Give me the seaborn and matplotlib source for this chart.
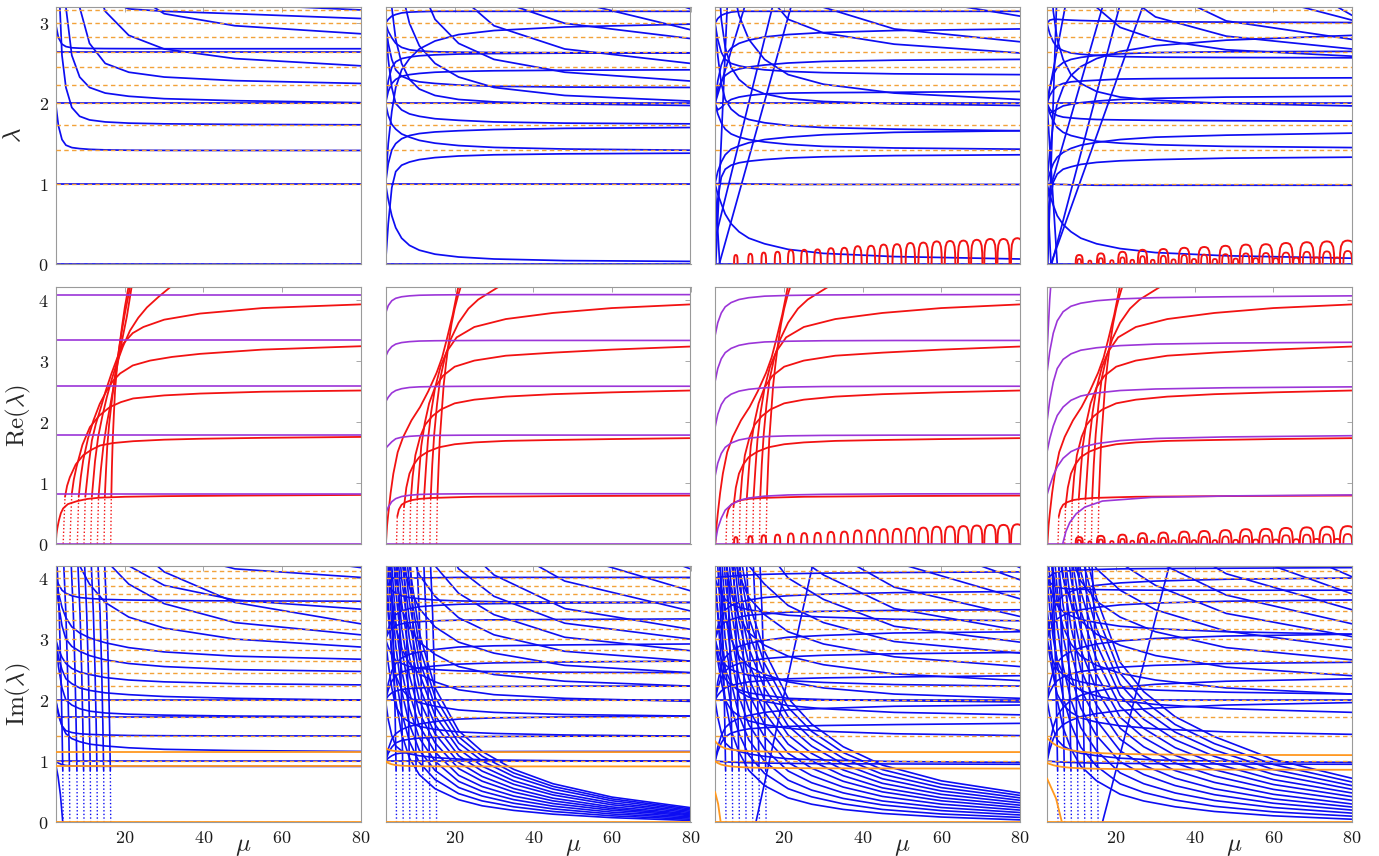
import pandas as pd
import matplotlib
matplotlib.use("Agg")
import matplotlib.pyplot as plt
import seaborn as sns

MU = [2.4, 3.1, 4, 5, 6.5, 8.5, 11, 15, 21, 30, 48, 80]
# finer mu positions for the decaying families near the axis in row 3
MU_F = [2.4, 3.1, 4, 5, 6.5, 8.5, 11, 15, 21, 27, 35, 45, 60, 80]

# sqrt(n) reference levels (dashed orange)
SQRT_N = [0, 1, 1.414, 1.732, 2.0, 2.236, 2.449, 2.646, 2.828, 3.0, 3.162,
          3.317, 3.464, 3.606, 3.742, 3.873, 4.0, 4.123]

# ---------------- row 1 : lambda ----------------
lam_c1 = [
    [0] * 12, [1] * 12, [2] * 12, [2.646] * 12,
    [2.0, 1.72, 1.55, 1.48, 1.45, 1.437, 1.428, 1.421, 1.417, 1.415, 1.414, 1.414],
    [4.5, 3.6, 2.6, 2.2, 1.95, 1.84, 1.795, 1.77, 1.755, 1.746, 1.739, 1.734],
    [6.0, 5.2, 4.2, 3.2, 2.6, 2.33, 2.2, 2.13, 2.09, 2.06, 2.035, 2.01],
    [9, 7.6, 6.2, 5.0, 4.0, 3.2, 2.75, 2.5, 2.39, 2.33, 2.285, 2.25],
    [12, 10.6, 9, 7.5, 6.0, 4.6, 3.7, 3.15, 2.85, 2.68, 2.56, 2.47],
    [15, 13, 11, 9, 7.2, 5.5, 4.2, 3.3, 3.18, 3.15, 3.12, 3.06],
    [20, 17.5, 14.5, 12, 9.5, 7.5, 5.8, 4.3, 3.4, 3.12, 2.97, 2.87],
    [25, 22, 19, 16, 13, 10.5, 8, 5.8, 4.4, 3.6, 3.24, 3.167],
    [2.99, 2.82, 2.74, 2.71, 2.695, 2.69, 2.687, 2.685, 2.684, 2.683, 2.683, 2.683],
]
lam_c2 = [
    [0] * 12, [1] * 12, [2] * 12,
    [1.0, 0.8, 0.6, 0.45, 0.32, 0.23, 0.17, 0.12, 0.085, 0.06, 0.04, 0.03],
    [0.0, 0.5, 0.95, 1.15, 1.23, 1.27, 1.3, 1.325, 1.345, 1.36, 1.372, 1.38],
    [1.0, 1.25, 1.42, 1.5, 1.56, 1.6, 1.625, 1.645, 1.66, 1.675, 1.69, 1.70],
    [2.0, 1.85, 1.74, 1.68, 1.62, 1.58, 1.54, 1.505, 1.475, 1.452, 1.432, 1.417],
    [3.0, 2.55, 2.2, 2.0, 1.92, 1.87, 1.84, 1.81, 1.79, 1.77, 1.755, 1.746],
    [2.0, 2.15, 2.25, 2.3, 2.34, 2.36, 2.375, 2.39, 2.4, 2.408, 2.415, 2.42],
    [3.0, 2.75, 2.55, 2.42, 2.34, 2.3, 2.27, 2.25, 2.23, 2.215, 2.205, 2.2],
    [2.0, 2.28, 2.45, 2.52, 2.56, 2.58, 2.595, 2.607, 2.617, 2.623, 2.628, 2.63],
    [1.0, 1.5, 1.9, 2.2, 2.42, 2.56, 2.68, 2.78, 2.86, 2.91, 2.955, 2.99],
    [5.0, 4.0, 3.2, 2.8, 2.5, 2.3, 2.18, 2.1, 2.05, 2.02, 1.995, 1.975],
    [7.0, 6.0, 4.9, 4.0, 3.4, 3.0, 2.72, 2.5, 2.33, 2.2, 2.1, 2.03],
    [9.0, 8.0, 6.9, 6.0, 5.0, 4.1, 3.5, 3.05, 2.75, 2.55, 2.39, 2.28],
    [12, 10.8, 9.2, 8.0, 6.8, 5.7, 4.8, 3.95, 3.35, 2.97, 2.68, 2.5],
    [15, 14, 12, 10, 8.5, 7.2, 6, 4.8, 3.85, 3.3, 3.0, 2.81],
    [20, 18, 16, 14, 11.8, 9.8, 8, 6.4, 4.9, 3.9, 3.3, 2.92],
    [3.0, 3.05, 3.09, 3.11, 3.13, 3.14, 3.145, 3.15, 3.15, 3.15, 3.15, 3.15],
    [25, 22, 19, 16, 13.5, 11.5, 9.8, 8, 6.2, 4.8, 3.7, 3.18],
    [3.0, 2.9, 2.82, 2.75, 2.7, 2.67, 2.655, 2.645, 2.64, 2.636, 2.633, 2.632],
]
lam_c3 = [
    [0] * 12, [1, 1, 1, 1, 1, 1, 0.995, 0.995, 0.99, 0.99, 0.99, 0.99], [2] * 12,
    [1.0, 0.87, 0.75, 0.62, 0.5, 0.4, 0.32, 0.25, 0.18, 0.13, 0.09, 0.06],
    [2.0, 1.92, 1.95, 2.0, 2.05, 2.08, 2.1, 2.12, 2.13, 2.135, 2.14, 2.15],
    [0.3, 0.8, 1.08, 1.18, 1.23, 1.26, 1.28, 1.3, 1.32, 1.335, 1.35, 1.36],
    [1.0, 1.15, 1.27, 1.36, 1.43, 1.47, 1.51, 1.55, 1.58, 1.61, 1.64, 1.66],
    [2.0, 1.87, 1.76, 1.68, 1.62, 1.58, 1.55, 1.52, 1.49, 1.465, 1.445, 1.43],
    [3.0, 2.6, 2.25, 2.05, 1.93, 1.85, 1.8, 1.76, 1.725, 1.7, 1.68, 1.66],
    [4.5, 3.75, 3.05, 2.7, 2.45, 2.3, 2.2, 2.12, 2.06, 2.025, 1.995, 1.975],
    [2.0, 2.17, 2.28, 2.35, 2.4, 2.43, 2.455, 2.48, 2.505, 2.525, 2.54, 2.55],
    [3.0, 2.8, 2.64, 2.55, 2.5, 2.47, 2.445, 2.42, 2.4, 2.385, 2.37, 2.36],
    [7.0, 6.0, 5.0, 4.2, 3.55, 3.1, 2.8, 2.55, 2.36, 2.24, 2.13, 2.05],
    [10, 8.8, 7.4, 6.5, 5.4, 4.5, 3.9, 3.4, 3.05, 2.88, 2.74, 2.63],
    [13, 12, 10.5, 9, 7.6, 6.4, 5.3, 4.4, 3.6, 3.2, 2.93, 2.77],
    [2.0, 2.28, 2.48, 2.6, 2.69, 2.75, 2.79, 2.83, 2.86, 2.885, 2.91, 2.93],
    [18, 16.5, 14, 12, 10, 8.5, 7, 5.6, 4.4, 3.75, 3.35, 3.09],
    [3.0, 3.06, 3.1, 3.12, 3.14, 3.15, 3.15, 3.15, 3.15, 3.15, 3.15, 3.15],
]
lam_lines_c3 = [
    ([3.5, 21.7], [0, 3.2]), ([2.4, 17.0], [0.3, 3.2]), ([2.4, 9.9], [2.0, 3.2]),
    ([2.4, 3.6], [1.0, 0]), ([2.6, 5.5], [0, 3.2]),
]
lam_c4 = [
    [0] * 12, [1.0, 1.0, 0.995, 0.99, 0.99, 0.985, 0.985, 0.98, 0.98, 0.98, 0.98, 0.98], [2] * 12,
    [1.0, 0.86, 0.73, 0.6, 0.49, 0.4, 0.32, 0.25, 0.19, 0.14, 0.1, 0.07],
    [0.3, 0.78, 1.02, 1.12, 1.18, 1.21, 1.24, 1.265, 1.285, 1.3, 1.318, 1.33],
    [1.0, 1.13, 1.25, 1.33, 1.39, 1.44, 1.48, 1.515, 1.55, 1.58, 1.605, 1.63],
    [2.0, 1.88, 1.78, 1.7, 1.64, 1.6, 1.57, 1.53, 1.505, 1.485, 1.465, 1.45],
    [2.0, 1.93, 1.88, 1.85, 1.83, 1.82, 1.81, 1.8, 1.795, 1.79, 1.785, 1.78],
    [2.0, 1.88, 1.9, 1.93, 1.97, 1.99, 2.01, 2.03, 2.05, 2.065, 2.08, 2.09],
    [4.5, 3.8, 3.15, 2.8, 2.55, 2.36, 2.25, 2.15, 2.08, 2.04, 2.0, 1.97],
    [2.0, 2.1, 2.17, 2.22, 2.25, 2.27, 2.28, 2.29, 2.305, 2.31, 2.315, 2.32],
    [3.0, 2.87, 2.77, 2.7, 2.66, 2.63, 2.615, 2.6, 2.585, 2.578, 2.574, 2.57],
    [9, 7.8, 6.5, 5.5, 4.6, 4.0, 3.55, 3.2, 2.95, 2.8, 2.67, 2.59],
    [2.0, 2.2, 2.36, 2.45, 2.51, 2.55, 2.575, 2.6, 2.62, 2.635, 2.645, 2.65],
    [12, 10.8, 9.2, 8, 6.6, 5.5, 4.6, 3.95, 3.4, 3.08, 2.84, 2.68],
    [15, 13.2, 11.3, 10, 8.5, 7, 5.9, 4.9, 4.0, 3.45, 3.03, 2.8],
    [1.0, 1.4, 1.75, 2.0, 2.2, 2.35, 2.46, 2.56, 2.65, 2.72, 2.79, 2.85],
    [3.0, 3.04, 3.05, 3.05, 3.045, 3.04, 3.035, 3.03, 3.025, 3.02, 3.015, 3.01],
    [20, 17.5, 15, 13, 11, 9, 7.6, 6.3, 5.0, 4.1, 3.45, 3.04],
    [30, 27, 23, 20, 17, 15, 12.5, 10, 7.5, 5.5, 4.0, 3.1],
]
lam_lines_c4 = [
    ([3.4, 26.7], [0, 3.2]), ([3.6, 20.8], [0, 3.2]), ([2.4, 16.5], [0.8, 3.2]),
    ([2.4, 7.0], [2.0, 3.2]), ([2.4, 3.4], [1.0, 0]), ([2.6, 4.8], [0, 3.2]), ([2.4, 5.0], [2.0, 0]),
]

# red arches sitting on the axis (columns 3 and 4, rows 1 and 2)
ARCH_U = [-1, -0.96, -0.85, -0.6, -0.3, 0, 0.3, 0.6, 0.85, 0.96, 1]
ARCH_V = [0, 0.45, 0.75, 0.93, 0.985, 1, 0.985, 0.93, 0.75, 0.45, 0]
arch3_mu = [7.7, 11.4, 14.8, 18.3, 21.7, 25.1, 28.5, 31.9, 35.3, 38.7, 42.1,
            45.3, 48.7, 52.1, 55.4, 58.8, 62.2, 65.6, 69.0, 72.4, 75.8, 79.3]
arch3_h = [0.11, 0.125, 0.14, 0.15, 0.17, 0.175, 0.18, 0.195, 0.2, 0.22, 0.225,
           0.24, 0.245, 0.26, 0.265, 0.28, 0.285, 0.29, 0.3, 0.31, 0.31, 0.32]
arch3_w = [0.45, 0.55, 0.6, 0.7, 0.75, 0.8, 0.85, 0.9, 0.95, 1.0, 1.05,
           1.1, 1.15, 1.2, 1.25, 1.3, 1.35, 1.4, 1.45, 1.5, 1.55, 1.6]
arch4_mu = [10.6, 16.1, 21.6, 26.7, 32.0, 37.3, 42.4, 47.8, 53.0, 58.1, 63.2, 68.5, 73.6, 78.9]
arch4_h = [0.11, 0.13, 0.15, 0.175, 0.185, 0.2, 0.21, 0.225, 0.24, 0.245, 0.26, 0.27, 0.28, 0.29]
arch4_w = [0.9, 1.0, 1.1, 1.2, 1.3, 1.4, 1.5, 1.55, 1.6, 1.7, 1.75, 1.8, 1.9, 2.0]
arch4i_h = [0.06, 0.07, 0.08, 0.095, 0.1, 0.11, 0.115, 0.12, 0.13, 0.135, 0.14, 0.15, 0.155, 0.16]
arch4i_w = [0.5, 0.55, 0.6, 0.65, 0.7, 0.75, 0.8, 0.85, 0.9, 0.95, 1.0, 1.0, 1.05, 1.1]
arch4s_mu = [13.3, 18.9, 24.1, 29.3, 34.6, 39.8, 45.1, 50.4, 55.5, 60.6, 65.8, 71.0, 76.2]
arch4s_h = [0.04, 0.045, 0.05, 0.05, 0.055, 0.06, 0.06, 0.065, 0.07, 0.07, 0.075, 0.08, 0.08]
arch4s_w = [0.4, 0.45, 0.5, 0.5, 0.55, 0.6, 0.6, 0.65, 0.7, 0.7, 0.75, 0.8, 0.8]

# ---------------- row 2 : Re(lambda) ----------------
re_purple_c1 = [[0.82] * 12, [1.78] * 12, [2.58] * 12, [3.33] * 12, [4.08] * 12, [0] * 12]
re_purple_c2 = [
    [0.49, 0.6, 0.69, 0.74, 0.775, 0.795, 0.808, 0.815, 0.818, 0.82, 0.82, 0.82],
    [1.56, 1.61, 1.67, 1.72, 1.745, 1.76, 1.77, 1.775, 1.778, 1.78, 1.78, 1.78],
    [2.32, 2.4, 2.47, 2.51, 2.54, 2.56, 2.57, 2.575, 2.578, 2.58, 2.58, 2.58],
    [3.06, 3.16, 3.23, 3.27, 3.295, 3.31, 3.32, 3.325, 3.328, 3.33, 3.33, 3.33],
    [3.77, 3.9, 3.98, 4.02, 4.045, 4.06, 4.07, 4.075, 4.078, 4.08, 4.08, 4.08],
    [0] * 12,
]
re_purple_c3 = [
    [0.0, 0.25, 0.42, 0.55, 0.64, 0.71, 0.75, 0.78, 0.8, 0.81, 0.817, 0.82],
    [1.1, 1.32, 1.48, 1.58, 1.65, 1.7, 1.73, 1.755, 1.768, 1.775, 1.779, 1.78],
    [1.9, 2.12, 2.28, 2.38, 2.45, 2.5, 2.53, 2.555, 2.567, 2.575, 2.579, 2.58],
    [2.65, 2.87, 3.03, 3.13, 3.2, 3.25, 3.28, 3.305, 3.317, 3.325, 3.329, 3.33],
    [3.4, 3.62, 3.78, 3.88, 3.95, 4.0, 4.03, 4.055, 4.067, 4.075, 4.079, 4.08],
    [0] * 12,
]
re_purple_c4 = [
    [0.8, 0.95, 1.12, 1.26, 1.4, 1.51, 1.58, 1.64, 1.69, 1.725, 1.75, 1.77],
    [1.5, 1.72, 1.93, 2.1, 2.24, 2.35, 2.42, 2.47, 2.51, 2.535, 2.555, 2.57],
    [2.0, 2.35, 2.65, 2.87, 3.02, 3.11, 3.17, 3.21, 3.245, 3.27, 3.287, 3.3],
    [2.8, 3.15, 3.45, 3.65, 3.8, 3.89, 3.94, 3.98, 4.01, 4.03, 4.045, 4.06],
    [3.14, 4.0, 4.8, 5.3, 5.7, 6, 6.1, 6.2, 6.3, 6.3, 6.3, 6.3],
    [0] * 12,
]
re_purple_c4_late = [([6.4, 7.2, 8.2, 9.8, 12, 16.5, 29, 50, 80],
                      [0, 0.2, 0.35, 0.49, 0.6, 0.7, 0.76, 0.785, 0.8])]
# red curve leaving the origin
re_red_c1_origin = [([2.4, 2.6, 2.8, 3.2, 3.7, 4.3, 5.5, 7.9, 10.5, 13.5, 20, 30, 50, 80],
                     [0, 0.16, 0.25, 0.38, 0.5, 0.58, 0.65, 0.7, 0.735, 0.755, 0.77, 0.78, 0.79, 0.80])]
re_red_c2_origin = [([2.5, 2.8, 3.1, 3.7, 4.4, 5.5, 6.9, 9, 11.2, 13.3, 15.4, 16.8, 18.0, 19.5, 20.9],
                     [0, 0.3, 0.49, 0.83, 1.15, 1.5, 1.75, 2.02, 2.24, 2.5, 2.8, 3.05, 3.35, 3.75, 4.2])]
# red branches born on the axis (first step is the sparse dotted foot)
re_branch_c1 = [
    ([4.3, 4.77, 5.3, 6.0, 7.5, 9.4, 11.5, 13.7, 17, 22.1, 30, 39.1, 55, 80],
     [0, 0.77, 0.95, 1.09, 1.3, 1.45, 1.54, 1.61, 1.65, 1.68, 1.705, 1.72, 1.735, 1.75]),
    ([6.0, 6.5, 7.0, 7.7, 9.2, 11.1, 13.5, 16.2, 19, 22.1, 30, 39.1, 55, 80],
     [0, 0.82, 1.05, 1.26, 1.62, 1.91, 2.1, 2.24, 2.32, 2.38, 2.43, 2.46, 2.49, 2.51]),
    ([7.9, 8.25, 8.8, 9.4, 10.6, 12.0, 13.6, 15.4, 17, 18.8, 22, 26.4, 32, 39.1, 55, 80],
     [0, 0.77, 1.1, 1.37, 1.72, 2.02, 2.29, 2.51, 2.67, 2.79, 2.92, 3.0, 3.06, 3.11, 3.18, 3.235]),
    ([9.6, 9.93, 10.8, 11.6, 12.6, 13.7, 15.1, 16.6, 18.1, 19.6, 22, 24.7, 30, 39.1, 55, 80],
     [0, 0.77, 1.3, 1.69, 1.96, 2.19, 2.5, 2.79, 3.05, 3.28, 3.45, 3.55, 3.67, 3.77, 3.86, 3.92]),
    ([11.3, 11.6, 12.4, 13.2, 14.3, 15.4, 16.6, 17.9, 19.5, 21.3, 23.4, 25.6, 28.5, 31.5],
     [0, 0.77, 1.35, 1.75, 2.1, 2.40, 2.68, 2.95, 3.23, 3.49, 3.7, 3.87, 4.04, 4.2]),
    ([13.0, 13.3, 13.9, 14.5, 15.3, 16.2, 17.2, 18.3, 19.4, 20.5, 21.7],
     [0, 0.77, 1.22, 1.58, 1.93, 2.24, 2.6, 3.0, 3.37, 3.72, 4.2]),
    ([14.7, 14.9, 15.2, 15.5, 16.0, 16.6, 17.4, 18.3, 19.2, 20.0, 21.3],
     [0, 0.77, 1.2, 1.58, 1.96, 2.3, 2.72, 3.1, 3.47, 3.77, 4.2]),
    ([16.4, 16.55, 16.7, 16.9, 17.2, 17.5, 18.0, 18.6, 19.3, 20.0, 20.9],
     [0, 0.77, 1.25, 1.69, 2.12, 2.51, 2.9, 3.23, 3.57, 3.88, 4.2]),
]
re_branch_c2 = [
    ([5.2, 5.4, 5.8, 6.5, 7.5, 9.0, 11, 14, 19, 25, 35, 50, 80],
     [0, 0.45, 0.56, 0.64, 0.68, 0.715, 0.735, 0.75, 0.76, 0.77, 0.775, 0.782, 0.79]),
    ([6.9, 7.1, 7.7, 8.5, 9.6, 11, 13.2, 16, 20, 25, 33, 45, 60, 80],
     [0, 0.6, 0.92, 1.15, 1.3, 1.42, 1.51, 1.58, 1.63, 1.66, 1.685, 1.70, 1.715, 1.73]),
    ([8.6, 8.8, 9.3, 10, 11.2, 12.5, 14.3, 16.5, 20, 25, 33, 45, 60, 80],
     [0, 0.7, 1.1, 1.45, 1.75, 1.95, 2.09, 2.2, 2.3, 2.36, 2.41, 2.45, 2.48, 2.51]),
    ([10.3, 10.5, 11.0, 11.5, 12.4, 13.5, 15, 17, 20, 25, 33, 45, 60, 80],
     [0, 0.75, 1.2, 1.6, 1.98, 2.3, 2.56, 2.75, 2.9, 3.0, 3.08, 3.13, 3.18, 3.23]),
    ([12.0, 12.2, 12.7, 13.2, 14.0, 15, 16.4, 18, 20.5, 25, 33, 45, 60, 80],
     [0, 0.75, 1.25, 1.7, 2.15, 2.55, 2.9, 3.15, 3.38, 3.55, 3.68, 3.78, 3.86, 3.92]),
    ([13.7, 13.9, 14.3, 14.8, 15.5, 16.3, 17.5, 19, 21, 23.5, 26, 28, 31],
     [0, 0.75, 1.3, 1.8, 2.28, 2.7, 3.05, 3.35, 3.62, 3.85, 4.0, 4.08, 4.2]),
    ([15.4, 15.6, 15.9, 16.2, 16.7, 17.2, 17.8, 18.5, 19.2, 20, 20.8, 21.5],
     [0, 0.75, 1.25, 1.7, 2.15, 2.6, 2.95, 3.3, 3.6, 3.85, 4.05, 4.2]),
]

# ---------------- row 3 : Im(lambda) ----------------
VERT_V = [4.3, 3.4, 2.5, 1.6, 0.85, 0]
im_vert_c1 = [
    [2.7, 3.3, 3.7, 4.0, 4.2, 4.3], [4.4, 5.0, 5.4, 5.7, 5.9, 6.0], [6.3, 6.9, 7.3, 7.6, 7.8, 7.9],
    [8.0, 8.6, 9.0, 9.3, 9.5, 9.6], [9.7, 10.3, 10.7, 11.0, 11.2, 11.3], [11.4, 12.0, 12.4, 12.7, 12.9, 13.0],
    [13.1, 13.7, 14.1, 14.4, 14.6, 14.7], [14.8, 15.4, 15.8, 16.1, 16.3, 16.4],
]
im_vert_c2 = [
    [3.6, 4.2, 4.6, 4.9, 5.1, 5.2], [5.3, 5.9, 6.3, 6.6, 6.8, 6.9], [7.0, 7.6, 8.0, 8.3, 8.5, 8.6],
    [8.7, 9.3, 9.7, 10.0, 10.2, 10.3], [10.4, 11.0, 11.4, 11.7, 11.9, 12.0], [12.1, 12.7, 13.1, 13.4, 13.6, 13.7],
    [13.8, 14.4, 14.8, 15.1, 15.3, 15.4],
]
im_orange_c1 = [[1.15] * 12, [0.915] * 12, [0] * 12]
im_orange_c2 = [
    [1.22, 1.19, 1.175, 1.165, 1.158, 1.154, 1.152, 1.151, 1.15, 1.15, 1.15, 1.15],
    [1.0, 0.97, 0.95, 0.937, 0.927, 0.921, 0.918, 0.916, 0.915, 0.915, 0.915, 0.915],
    [0] * 12,
]
im_orange_c3 = [
    [1.33, 1.28, 1.24, 1.21, 1.19, 1.175, 1.165, 1.158, 1.154, 1.152, 1.15, 1.15],
    [1.0, 0.97, 0.945, 0.93, 0.915, 0.905, 0.897, 0.891, 0.887, 0.884, 0.882, 0.88],
    [0] * 12,
]
im_orange_c4 = [
    [1.38, 1.34, 1.29, 1.25, 1.21, 1.18, 1.155, 1.135, 1.12, 1.11, 1.104, 1.1],
    [0.97, 0.955, 0.935, 0.92, 0.905, 0.893, 0.884, 0.877, 0.871, 0.867, 0.863, 0.86],
    [0] * 12,
]
im_orange_drop_c3 = [([2.4, 3.2, 3.85], [0.5, 0.3, 0])]
im_orange_drop_c4 = [([2.4, 4.7, 6.2], [0.72, 0.39, 0])]
im_first_drop_c1 = [([2.4, 3.0, 3.6, 4.2], [0.95, 0.75, 0.45, 0])]
im_line_c3 = [([12.8, 27.2], [0, 4.2])]
im_line_c4 = [([16.5, 33.5], [0, 4.2])]

im_blue_c1 = [
    [1.0] * 12, [2.0] * 12, [1.732] * 12,
    [2.0, 1.75, 1.58, 1.5, 1.47, 1.45, 1.44, 1.43, 1.422, 1.418, 1.415, 1.414],
    [2.0, 1.8, 1.58, 1.45, 1.37, 1.32, 1.28, 1.25, 1.22, 1.195, 1.175, 1.16],
    [1.0, 0.97, 0.945, 0.93, 0.924, 0.92, 0.918, 0.917, 0.916, 0.916, 0.915, 0.915],
    [3.0, 2.7, 2.5, 2.35, 2.27, 2.2, 2.16, 2.12, 2.09, 2.06, 2.03, 2.0],
    [3.0, 2.55, 2.2, 2.0, 1.92, 1.86, 1.82, 1.79, 1.77, 1.755, 1.74, 1.73],
    [3.0, 2.84, 2.7, 2.6, 2.52, 2.46, 2.42, 2.37, 2.33, 2.3, 2.27, 2.25],
    [4.0, 3.58, 3.22, 3.0, 2.88, 2.8, 2.73, 2.66, 2.6, 2.55, 2.5, 2.47],
    [4.0, 3.76, 3.52, 3.35, 3.2, 3.1, 3.02, 2.94, 2.86, 2.79, 2.72, 2.67],
    [4.0, 3.9, 3.8, 3.75, 3.71, 3.68, 3.665, 3.65, 3.64, 3.632, 3.625, 3.62],
    [7, 6.5, 5.7, 5.0, 4.5, 4.2, 3.9, 3.6, 3.36, 3.18, 3.0, 2.87],
    [9, 8.5, 7.6, 7.0, 6.2, 5.5, 4.8, 4.3, 3.9, 3.58, 3.27, 3.07],
    [12, 11, 9.8, 9, 8, 7, 6.2, 5.4, 4.6, 4.1, 3.6, 3.25],
    [15, 14, 12.5, 11, 9.5, 8, 6.5, 4.9, 4.2, 3.88, 3.64, 3.49],
    [20, 18, 16, 14, 12, 10, 8, 6.2, 5.0, 4.45, 4.15, 4.01],
    [25, 22.5, 19, 16, 14, 12, 10, 8, 6.3, 5.2, 4.45, 4.17],
]
im_blue_c2 = [
    [1.0] * 12, [2.0] * 12,
    [3.0, 2.6, 2.2, 1.9, 1.73, 1.64, 1.57, 1.52, 1.48, 1.455, 1.43, 1.41],
    [4.0, 3.4, 2.8, 2.4, 2.18, 2.04, 1.96, 1.9, 1.84, 1.8, 1.765, 1.74],
    [5.2, 4.5, 3.7, 3.2, 2.85, 2.6, 2.43, 2.3, 2.17, 2.09, 2.03, 1.98],
    [6.5, 5.6, 4.7, 4.0, 3.5, 3.18, 2.95, 2.75, 2.55, 2.42, 2.31, 2.23],
    [8.0, 7.0, 5.9, 5.0, 4.3, 3.85, 3.5, 3.2, 2.95, 2.77, 2.57, 2.45],
    [9.5, 8.3, 7.1, 6.0, 5.1, 4.5, 4.05, 3.7, 3.35, 3.07, 2.8, 2.64],
    [11, 9.8, 8.2, 7, 6.0, 5.2, 4.6, 4.2, 3.75, 3.4, 3.03, 2.81],
    [13, 11.5, 9.6, 8.2, 7, 6.1, 5.3, 4.8, 4.15, 3.7, 3.26, 3.0],
    [15, 13.2, 11.2, 9.5, 8, 6.9, 6.0, 5.4, 4.6, 4.05, 3.5, 3.16],
    [18, 16, 13.5, 11.5, 9.7, 8.3, 7.2, 6.4, 5.3, 4.6, 3.95, 3.46],
    [21, 18.8, 15.8, 13.5, 11.4, 9.7, 8.4, 7.5, 6.1, 5.2, 4.4, 3.79],
    [25, 22, 18.7, 16, 13.6, 11.6, 10, 9, 7.1, 5.9, 4.9, 4.15],
    [1.0, 1.13, 1.23, 1.3, 1.34, 1.36, 1.38, 1.39, 1.4, 1.405, 1.41, 1.41],
    [2.0, 2.07, 2.12, 2.15, 2.175, 2.19, 2.2, 2.21, 2.22, 2.225, 2.23, 2.23],
    [2.0, 2.17, 2.31, 2.4, 2.46, 2.5, 2.53, 2.56, 2.59, 2.61, 2.625, 2.64],
    [3.0, 3.1, 3.17, 3.22, 3.25, 3.27, 3.285, 3.3, 3.31, 3.315, 3.322, 3.33],
    [3.0, 3.17, 3.31, 3.4, 3.46, 3.5, 3.53, 3.55, 3.57, 3.58, 3.59, 3.6],
    [4.0, 4.0, 4.0, 4.0, 4.0, 4.0, 4.0, 4.005, 4.01, 4.01, 4.01, 4.01],
    [1.0, 1.2, 1.36, 1.45, 1.52, 1.57, 1.61, 1.65, 1.69, 1.71, 1.725, 1.74],
    [2.0, 2.27, 2.48, 2.6, 2.69, 2.75, 2.79, 2.83, 2.87, 2.89, 2.905, 2.92],
    [2.0, 1.68, 1.42, 1.25, 1.17, 1.12, 1.09, 1.06, 1.035, 1.02, 1.008, 1.0],
    [3.0, 2.87, 2.74, 2.65, 2.6, 2.55, 2.52, 2.5, 2.48, 2.467, 2.457, 2.45],
    [4.0, 3.9, 3.8, 3.75, 3.71, 3.68, 3.66, 3.64, 3.625, 3.613, 3.605, 3.6],
    [1.0, 1.05, 1.09, 1.12, 1.135, 1.14, 1.148, 1.152, 1.156, 1.158, 1.16, 1.16],
]
im_family_c2 = [
    [4.5, 3.6, 2.7, 2.0, 1.45, 1.05, 0.78, 0.55, 0.37, 0.27, 0.195, 0.133, 0.076, 0.03],
    [5.2, 4.2, 3.2, 2.4, 1.8, 1.32, 0.98, 0.7, 0.47, 0.35, 0.254, 0.177, 0.106, 0.05],
    [6.0, 4.9, 3.7, 2.9, 2.15, 1.6, 1.18, 0.85, 0.57, 0.43, 0.312, 0.22, 0.136, 0.07],
    [6.8, 5.5, 4.2, 3.3, 2.5, 1.86, 1.38, 1.0, 0.67, 0.507, 0.371, 0.264, 0.166, 0.09],
    [7.6, 6.2, 4.8, 3.8, 2.85, 2.12, 1.58, 1.15, 0.77, 0.585, 0.43, 0.307, 0.197, 0.11],
    [8.5, 6.9, 5.3, 4.3, 3.2, 2.4, 1.79, 1.3, 0.88, 0.673, 0.495, 0.351, 0.224, 0.125],
    [9.4, 7.6, 5.9, 4.8, 3.6, 2.7, 2.0, 1.45, 0.98, 0.75, 0.553, 0.395, 0.252, 0.14],
    [10.3, 8.4, 6.5, 5.3, 4.0, 3.0, 2.22, 1.6, 1.09, 0.838, 0.622, 0.448, 0.287, 0.16],
    [11.2, 9.1, 7.1, 5.8, 4.35, 3.3, 2.44, 1.75, 1.2, 0.919, 0.68, 0.491, 0.318, 0.18],
    [12.1, 9.8, 7.7, 6.3, 4.7, 3.6, 2.66, 1.9, 1.3, 1.004, 0.75, 0.545, 0.353, 0.2],
    [13.0, 10.5, 8.3, 6.8, 5.1, 3.9, 2.88, 2.05, 1.4, 1.082, 0.808, 0.588, 0.383, 0.22],
    [14.0, 11.3, 8.9, 7.3, 5.5, 4.2, 3.1, 2.2, 1.5, 1.16, 0.867, 0.632, 0.413, 0.24],
]
im_blue_c3 = [
    [1.0, 1.0, 0.995, 0.99, 0.985, 0.98, 0.975, 0.97, 0.965, 0.96, 0.955, 0.95], [2.0] * 12,
    [3.0, 2.65, 2.3, 2.0, 1.84, 1.74, 1.66, 1.6, 1.54, 1.49, 1.45, 1.42],
    [4.0, 3.45, 2.9, 2.5, 2.28, 2.14, 2.05, 1.98, 1.91, 1.86, 1.8, 1.76],
    [5.5, 4.7, 3.9, 3.4, 3.0, 2.72, 2.55, 2.42, 2.3, 2.2, 2.1, 2.03],
    [7.0, 6.0, 5.0, 4.3, 3.75, 3.36, 3.1, 2.9, 2.72, 2.58, 2.43, 2.32],
    [8.5, 7.3, 6.1, 5.3, 4.6, 4.05, 3.68, 3.4, 3.12, 2.92, 2.71, 2.55],
    [10, 8.7, 7.3, 6.3, 5.4, 4.7, 4.2, 3.9, 3.55, 3.27, 2.96, 2.77],
    [12, 10.5, 8.8, 7.5, 6.4, 5.5, 4.9, 4.5, 4.0, 3.65, 3.21, 2.95],
    [14, 12.2, 10.2, 8.8, 7.4, 6.4, 5.6, 5.1, 4.45, 4.05, 3.5, 3.14],
    [16, 14.2, 11.8, 10, 8.5, 7.3, 6.4, 5.8, 5.0, 4.5, 3.85, 3.37],
    [19, 17, 14, 12, 10, 8.5, 7.4, 6.7, 5.7, 5.05, 4.26, 3.66],
    [22, 19.8, 16.4, 14, 11.7, 9.9, 8.6, 7.8, 6.5, 5.7, 4.7, 3.97],
    [26, 23.2, 19.3, 16.5, 13.7, 11.6, 10, 9, 7.4, 6.3, 5.1, 4.17],
    [1.0, 1.16, 1.3, 1.4, 1.46, 1.5, 1.53, 1.55, 1.57, 1.585, 1.6, 1.62],
    [2.0, 2.08, 2.15, 2.2, 2.24, 2.27, 2.3, 2.32, 2.35, 2.365, 2.38, 2.4],
    [2.0, 2.2, 2.37, 2.48, 2.55, 2.6, 2.64, 2.68, 2.71, 2.735, 2.76, 2.78],
    [3.0, 3.12, 3.22, 3.28, 3.32, 3.36, 3.39, 3.41, 3.44, 3.455, 3.47, 3.48],
    [3.0, 3.2, 3.37, 3.48, 3.55, 3.6, 3.64, 3.68, 3.71, 3.735, 3.76, 3.78],
    [4.0, 4.01, 4.02, 4.02, 4.03, 4.04, 4.05, 4.06, 4.07, 4.08, 4.09, 4.1],
    [1.0, 1.23, 1.42, 1.55, 1.64, 1.7, 1.75, 1.8, 1.84, 1.865, 1.9, 1.92],
    [2.0, 2.3, 2.55, 2.7, 2.8, 2.88, 2.93, 2.98, 3.03, 3.06, 3.1, 3.12],
    [2.0, 1.72, 1.47, 1.3, 1.21, 1.16, 1.12, 1.08, 1.04, 1.02, 0.995, 0.98],
    [3.0, 2.84, 2.68, 2.58, 2.5, 2.45, 2.41, 2.37, 2.32, 2.29, 2.255, 2.23],
    [4.0, 3.87, 3.74, 3.65, 3.57, 3.52, 3.48, 3.44, 3.39, 3.36, 3.325, 3.3],
    [3.0, 2.75, 2.5, 2.35, 2.24, 2.17, 2.12, 2.08, 2.03, 2.01, 1.99, 1.97],
]
im_family_c3 = [
    [4.0, 3.4, 2.6, 2.0, 1.5, 1.15, 0.85, 0.6, 0.4, 0.296, 0.211, 0.145, 0.086, 0.04],
    [5.0, 4.2, 3.2, 2.5, 1.9, 1.45, 1.1, 0.8, 0.55, 0.417, 0.302, 0.21, 0.136, 0.08],
    [6.0, 5.0, 3.8, 3.0, 2.3, 1.75, 1.35, 1.0, 0.69, 0.527, 0.391, 0.284, 0.191, 0.12],
    [7.0, 5.8, 4.4, 3.5, 2.7, 2.06, 1.6, 1.2, 0.84, 0.648, 0.482, 0.349, 0.242, 0.16],
    [8.0, 6.6, 5.0, 4.0, 3.1, 2.37, 1.85, 1.4, 0.98, 0.765, 0.577, 0.424, 0.297, 0.2],
    [9.0, 7.4, 5.6, 4.5, 3.5, 2.68, 2.1, 1.6, 1.13, 0.886, 0.672, 0.498, 0.352, 0.24],
    [10, 8.2, 6.2, 5.0, 3.9, 3.0, 2.35, 1.8, 1.28, 1.006, 0.763, 0.564, 0.402, 0.28],
    [11, 9.0, 6.8, 5.5, 4.3, 3.3, 2.6, 2.0, 1.43, 1.127, 0.858, 0.638, 0.458, 0.32],
    [12, 9.8, 7.4, 6.0, 4.7, 3.6, 2.85, 2.2, 1.58, 1.247, 0.953, 0.713, 0.513, 0.36],
    [13, 10.6, 8.0, 6.5, 5.1, 3.9, 3.1, 2.4, 1.73, 1.367, 1.048, 0.787, 0.568, 0.4],
    [14, 11.4, 8.6, 7.0, 5.5, 4.2, 3.35, 2.6, 1.88, 1.488, 1.143, 0.862, 0.624, 0.44],
    [15, 12.2, 9.2, 7.5, 5.9, 4.5, 3.6, 2.8, 2.03, 1.608, 1.238, 0.936, 0.679, 0.48],
]
im_blue_c4 = [
    [1.0, 1.0, 0.995, 0.99, 0.985, 0.98, 0.975, 0.97, 0.965, 0.96, 0.955, 0.95], [2.0] * 12,
    [3.0, 2.72, 2.4, 2.1, 1.92, 1.8, 1.71, 1.64, 1.58, 1.53, 1.48, 1.44],
    [4.0, 3.5, 3.0, 2.65, 2.43, 2.27, 2.16, 2.07, 1.99, 1.93, 1.86, 1.8],
    [5.5, 4.85, 4.1, 3.6, 3.2, 2.92, 2.72, 2.57, 2.44, 2.33, 2.2, 2.1],
    [7.0, 6.2, 5.3, 4.6, 4.0, 3.6, 3.3, 3.08, 2.9, 2.73, 2.54, 2.4],
    [8.5, 7.6, 6.4, 5.6, 4.9, 4.35, 3.95, 3.62, 3.36, 3.12, 2.86, 2.66],
    [10, 9.1, 7.8, 6.7, 5.8, 5.1, 4.6, 4.15, 3.8, 3.48, 3.13, 2.86],
    [12, 10.8, 9.2, 8.0, 6.9, 6.0, 5.35, 4.8, 4.25, 3.88, 3.42, 3.04],
    [14, 12.6, 10.7, 9.3, 8.0, 6.9, 6.1, 5.4, 4.75, 4.28, 3.72, 3.25],
    [16, 14.7, 12.4, 10.8, 9.2, 7.9, 7.0, 6.2, 5.35, 4.75, 4.07, 3.48],
    [19, 17.4, 14.6, 12.7, 10.8, 9.3, 8.1, 7.1, 6.0, 5.3, 4.47, 3.74],
    [22, 20.1, 17, 14.8, 12.6, 10.8, 9.4, 8.2, 6.8, 5.9, 4.92, 4.02],
    [1.0, 1.19, 1.37, 1.5, 1.6, 1.67, 1.73, 1.78, 1.83, 1.87, 1.92, 1.96],
    [2.0, 2.13, 2.24, 2.32, 2.38, 2.43, 2.47, 2.5, 2.54, 2.57, 2.6, 2.62],
    [2.0, 2.27, 2.48, 2.62, 2.72, 2.8, 2.86, 2.92, 2.97, 3.01, 3.05, 3.08],
    [3.0, 3.13, 3.25, 3.33, 3.39, 3.44, 3.48, 3.52, 3.56, 3.59, 3.62, 3.64],
    [3.0, 3.27, 3.48, 3.62, 3.71, 3.78, 3.83, 3.88, 3.92, 3.95, 3.98, 4.0],
    [4.0, 4.03, 4.07, 4.1, 4.11, 4.12, 4.13, 4.14, 4.15, 4.155, 4.16, 4.17],
    [1.0, 1.3, 1.56, 1.75, 1.88, 2.0, 2.08, 2.15, 2.21, 2.26, 2.31, 2.35],
    [2.0, 1.75, 1.52, 1.35, 1.25, 1.18, 1.13, 1.09, 1.05, 1.02, 1.0, 0.98],
    [3.0, 2.82, 2.63, 2.5, 2.42, 2.35, 2.3, 2.25, 2.2, 2.165, 2.13, 2.1],
    [4.0, 3.85, 3.68, 3.55, 3.45, 3.38, 3.32, 3.27, 3.21, 3.17, 3.12, 3.08],
    [4.0, 3.93, 3.88, 3.85, 3.83, 3.82, 3.815, 3.81, 3.805, 3.8, 3.8, 3.8],
]
im_family_c4 = [
    [3.5, 3.1, 2.5, 2.0, 1.55, 1.2, 0.92, 0.68, 0.46, 0.349, 0.254, 0.177, 0.106, 0.05],
    [4.5, 4.0, 3.2, 2.6, 2.05, 1.6, 1.23, 0.92, 0.63, 0.489, 0.365, 0.262, 0.171, 0.1],
    [5.5, 4.9, 3.9, 3.2, 2.55, 2.0, 1.55, 1.17, 0.81, 0.632, 0.48, 0.357, 0.242, 0.15],
    [6.5, 5.8, 4.6, 3.8, 3.05, 2.4, 1.87, 1.42, 0.99, 0.783, 0.601, 0.452, 0.312, 0.2],
    [7.5, 6.7, 5.3, 4.4, 3.55, 2.8, 2.18, 1.67, 1.17, 0.933, 0.722, 0.548, 0.383, 0.25],
    [8.5, 7.6, 6.0, 5.0, 4.05, 3.2, 2.5, 1.92, 1.36, 1.086, 0.847, 0.653, 0.458, 0.3],
    [9.5, 8.5, 6.7, 5.6, 4.55, 3.6, 2.82, 2.17, 1.54, 1.237, 0.972, 0.757, 0.539, 0.36],
    [10.5, 9.4, 7.4, 6.2, 5.05, 4.0, 3.14, 2.42, 1.72, 1.387, 1.097, 0.862, 0.619, 0.42],
    [11.5, 10.3, 8.1, 6.8, 5.55, 4.4, 3.46, 2.67, 1.9, 1.537, 1.222, 0.966, 0.699, 0.48],
    [12.5, 11.2, 8.8, 7.4, 6.05, 4.8, 3.78, 2.92, 2.08, 1.688, 1.351, 1.079, 0.785, 0.54],
    [13.5, 12.1, 9.5, 8.0, 6.55, 5.2, 4.1, 3.17, 2.26, 1.838, 1.476, 1.184, 0.865, 0.6],
    [14.5, 13.0, 10.2, 8.6, 7.05, 5.6, 4.42, 3.42, 2.44, 1.989, 1.601, 1.288, 0.946, 0.66],
    [15.5, 13.9, 10.9, 9.2, 7.55, 6.0, 4.74, 3.67, 2.62, 2.139, 1.729, 1.402, 1.031, 0.72],
]

BLUE = "#0d0df2"
RED = "#f21212"
PURPLE = "#9b35d8"
ORANGE = "#f2a23a"
ORANGE_SOLID = "#ff9820"
GREY = "#9a9a9a"

sns.set_theme(style="white")
plt.rcParams["mathtext.fontset"] = "cm"
plt.rcParams["font.family"] = ["DejaVu Serif"]


def knot_df(curves, knots=MU):
    rows = [(i, m, v) for i, vals in enumerate(curves) for m, v in zip(knots, vals)]
    return pd.DataFrame(rows, columns=["cid", "mu", "val"])


def path_df(paths):
    rows = [(i, m, v) for i, (ms, vs) in enumerate(paths) for m, v in zip(ms, vs)]
    return pd.DataFrame(rows, columns=["cid", "mu", "val"])


def draw(ax, df, color, lw=1.2, **kw):
    sns.lineplot(data=df, x="mu", y="val", units="cid", estimator=None, sort=False,
                 color=color, linewidth=lw, legend=False, ax=ax, **kw)


def arches(centers, halfw, heights):
    return [([c + w * u for u in ARCH_U], [h * a for a in ARCH_V])
            for c, w, h in zip(centers, halfw, heights)]


def branches(ax, paths, color):
    # sparse dotted foot, then the solid body
    draw(ax, path_df([(m[:2], v[:2]) for m, v in paths]), color, lw=1.0, linestyle=(0, (1, 1.6)))
    draw(ax, path_df([(m[1:], v[1:]) for m, v in paths]), color, lw=1.3)


def verticals(ax, mus, color):
    draw(ax, path_df([(m[:-1], VERT_V[:-1]) for m in mus]), color, lw=1.2)
    draw(ax, path_df([(m[-2:], VERT_V[-2:]) for m in mus]), color, lw=1.0, linestyle=(0, (1, 1.6)))


def dashed_levels(ax, top):
    for s in SQRT_N:
        if s <= top:
            ax.axhline(s, color=ORANGE, lw=1.0, dashes=(3.2, 2.4), zorder=5)


def red_arches(ax, col):
    if col == 2:
        draw(ax, path_df(arches(arch3_mu, arch3_w, arch3_h)), RED, lw=1.4)
    else:
        draw(ax, path_df(arches(arch4_mu, arch4_w, arch4_h)), RED, lw=1.4)
        draw(ax, path_df(arches(arch4_mu, arch4i_w, arch4i_h)), RED, lw=1.3)
        draw(ax, path_df(arches(arch4s_mu, arch4s_w, arch4s_h)), RED, lw=1.3)


fig = plt.figure(figsize=(13.79, 8.56), dpi=100)
LEFTS = [55.7, 385.5, 715.0, 1047.0]
TOPS = [7.3, 287.3, 565.8]
W, H = 305.0, 256.5
axes = [[fig.add_axes([l / 1379, 1 - (t + H) / 856, W / 1379, H / 856]) for l in LEFTS] for t in TOPS]

# row 1
for ax, curves in zip(axes[0], [lam_c1, lam_c2, lam_c3, lam_c4]):
    draw(ax, knot_df(curves), BLUE, lw=1.25)
draw(axes[0][2], path_df(lam_lines_c3), BLUE, lw=1.25)
draw(axes[0][3], path_df(lam_lines_c4), BLUE, lw=1.25)
red_arches(axes[0][2], 2)
red_arches(axes[0][3], 3)
for ax in axes[0]:
    dashed_levels(ax, 3.2)

# row 2
branches(axes[1][0], re_branch_c1, RED)
draw(axes[1][0], path_df(re_red_c1_origin), RED, lw=1.3)
for ax in axes[1][1:]:
    branches(ax, re_branch_c2, RED)
    draw(ax, path_df(re_red_c2_origin), RED, lw=1.3)
red_arches(axes[1][2], 2)
red_arches(axes[1][3], 3)
for ax, curves in zip(axes[1], [re_purple_c1, re_purple_c2, re_purple_c3, re_purple_c4]):
    draw(ax, knot_df(curves), PURPLE, lw=1.2)
draw(axes[1][3], path_df(re_purple_c4_late), PURPLE, lw=1.2)

# row 3
for ax, curves in zip(axes[2], [im_blue_c1, im_blue_c2, im_blue_c3, im_blue_c4]):
    draw(ax, knot_df(curves), BLUE, lw=1.2)
for ax, curves in zip(axes[2][1:], [im_family_c2, im_family_c3, im_family_c4]):
    draw(ax, knot_df(curves, MU_F), BLUE, lw=1.2)
verticals(axes[2][0], im_vert_c1, BLUE)
draw(axes[2][0], path_df(im_first_drop_c1), BLUE, lw=1.2)
for ax in axes[2][1:]:
    verticals(ax, im_vert_c2, BLUE)
draw(axes[2][2], path_df(im_line_c3), BLUE, lw=1.2)
draw(axes[2][3], path_df(im_line_c4), BLUE, lw=1.2)
for ax in axes[2]:
    dashed_levels(ax, 4.2)
for ax, curves in zip(axes[2], [im_orange_c1, im_orange_c2, im_orange_c3, im_orange_c4]):
    draw(ax, knot_df(curves), ORANGE_SOLID, lw=1.3, zorder=6)
draw(axes[2][2], path_df(im_orange_drop_c3), ORANGE_SOLID, lw=1.3, zorder=6)
draw(axes[2][3], path_df(im_orange_drop_c4), ORANGE_SOLID, lw=1.3, zorder=6)

ylabels = [r"$\lambda$", r"$\mathrm{Re}(\lambda)$", r"$\mathrm{Im}(\lambda)$"]
ylab_x = [-0.10, -0.075, -0.075]
for r in range(3):
    top = 3.2 if r == 0 else 4.2
    yt = [0, 1, 2, 3] if r == 0 else [0, 1, 2, 3, 4]
    for c in range(4):
        ax = axes[r][c]
        ax.set_xlim(2.4, 80)
        ax.set_ylim(0, top)
        ax.set_xticks([20, 40, 60, 80])
        ax.set_yticks(yt)
        ax.set_xticklabels([f"${t}$" for t in [20, 40, 60, 80]])
        ax.set_yticklabels([f"${t}$" for t in yt])
        ax.tick_params(axis="both", direction="in", length=3.5, width=0.6, colors=GREY,
                       labelcolor="#1a1a1a", labelsize=13, top=True, right=True,
                       labelleft=(c == 0), labelbottom=(r == 2), pad=5)
        for sp in ax.spines.values():
            sp.set_color(GREY)
            sp.set_linewidth(0.8)
        ax.set_xlabel("")
        ax.set_ylabel("")
        if c == 0:
            ax.set_ylabel(ylabels[r], fontsize=18)
            ax.yaxis.set_label_coords(ylab_x[r], 0.5)
        if r == 2:
            ax.set_xlabel(r"$\mu$", fontsize=18)
            ax.xaxis.set_label_coords(0.615, -0.05)

fig.savefig("out.png", dpi=100)
